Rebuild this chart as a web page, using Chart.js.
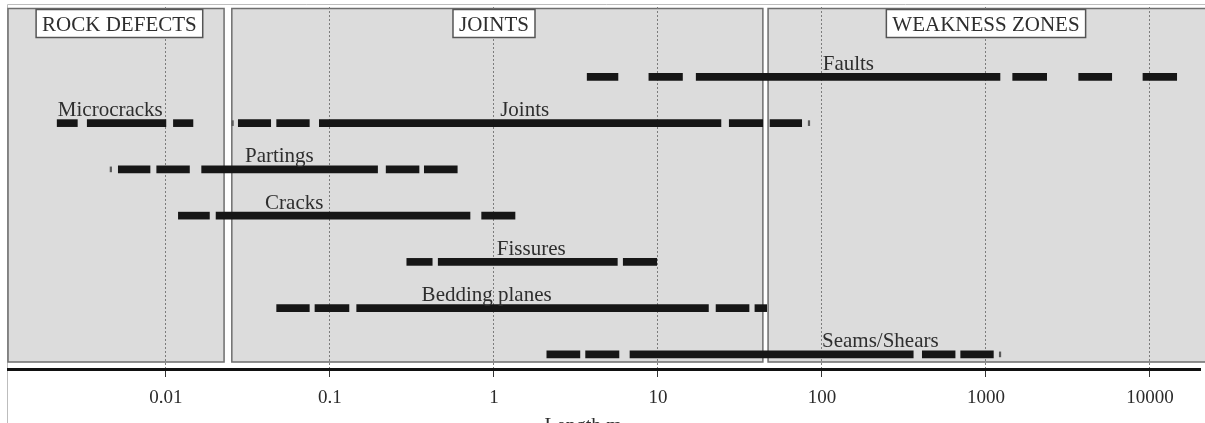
<!DOCTYPE html>
<html>
<head>
<meta charset="utf-8">
<script src="https://cdn.jsdelivr.net/npm/chart.js@4.4.0/dist/chart.umd.min.js"></script>
<style>
  html, body { margin: 0; padding: 0; background: #fff; }
</style>
</head>
<body>
<canvas id="lengthChart" width="1205" height="423"></canvas>
<script>
// Feature names and the row each one sits on (Microcracks and Joints share a row)
const features = ["Faults", "Microcracks", "Joints", "Partings", "Cracks", "Fissures", "Bedding planes", "Seams/Shears"];
const featureRow = [0, 1, 1, 2, 3, 4, 5, 6];

// Dashed ranges of length (m) for each feature
const faults = [[3.7, 5.7], [8.8, 14.1], [17.1, 1217], [1455, 2344], [3675, 5843], [9060, 14550]];
const microcracks = [[0.00217, 0.00288], [0.00331, 0.00999], [0.0111, 0.0146]];
const joints = [[0.0276, 0.0435], [0.0473, 0.0748], [0.0861, 24.2], [27.2, 43.5], [48.2, 75.2]];
const partings = [[0.00512, 0.00799], [0.00878, 0.0139], [0.0165, 0.195], [0.220, 0.349], [0.376, 0.597]];
const cracks = [[0.0119, 0.0184], [0.0202, 0.714], [0.841, 1.343]];
const fissures = [[0.294, 0.420], [0.457, 5.65], [6.14, 9.82]];
const beddingPlanes = [[0.0473, 0.0748], [0.0810, 0.1305], [0.1455, 20.3], [22.6, 35.9], [39.0, 46.0]];
const seamsShears = [[2.10, 3.34], [3.62, 5.78], [6.75, 360], [409, 648], [701, 1109]];
const featureRanges = [faults, microcracks, joints, partings, cracks, fissures, beddingPlanes, seamsShears];

// Little end marks at the extreme of some ranges
const endMarks = [[], [], [0.0252, 82.4], [0.00456], [], [], [], [1205]];

// Where each feature's name starts (m)
const labelAt = [101, 0.00219, 1.09, 0.0303, 0.0402, 1.04, 0.362, 100];

// Zones behind the bars
const zones = ["ROCK DEFECTS", "JOINTS", "WEAKNESS ZONES"];
const zoneFrom = [0.001088, 0.0252, 46.9];
const zoneTo = [0.0226, 43.6, 20180];
const zoneLabelAt = [0.0052, 1, 1000];

// Axis
const tickValues = [0.01, 0.1, 1, 10, 100, 1000, 10000];
const tickLabels = ["0.01", "0.1", "1", "10", "100", "1000", "10000"];
const axisMin = 0.001088;
const axisMax = 20180;
const axisTitle = "Length m";

const serif = "'Liberation Serif', 'Times New Roman', serif";

// build bar data from the arrays
const barData = [];
featureRanges.forEach((ranges, i) => {
  ranges.forEach((r) => barData.push({ x: r, y: featureRow[i] }));
});
const markData = [];
endMarks.forEach((marks, i) => {
  marks.forEach((m) => markData.push({ x: [m, m * 1.022], y: featureRow[i] }));
});

const decorPlugin = {
  id: "decor",
  beforeDraw(chart) {
    const { ctx, chartArea: area, scales } = chart;
    const x = scales.x;
    ctx.save();
    // faint outer frame
    ctx.strokeStyle = "#bdbdbd";
    ctx.lineWidth = 1;
    ctx.beginPath();
    ctx.moveTo(7.5, chart.height);
    ctx.lineTo(7.5, 4.5);
    ctx.lineTo(chart.width, 4.5);
    ctx.stroke();

    // zone panels
    zones.forEach((z, i) => {
      const left = x.getPixelForValue(zoneFrom[i]);
      const right = i === zones.length - 1 ? chart.width + 4 : x.getPixelForValue(zoneTo[i]);
      const top = area.top + 1.5;
      const bottom = area.bottom - 7;
      ctx.fillStyle = "#dcdcdc";
      ctx.fillRect(left, top, right - left, bottom - top);
      ctx.strokeStyle = "#6e6e6e";
      ctx.lineWidth = 1.5;
      ctx.strokeRect(left, top, right - left, bottom - top);
    });
    ctx.restore();
  },
  afterDraw(chart) {
    const { ctx, chartArea: area, scales } = chart;
    const x = scales.x;
    const y = scales.y;
    ctx.save();

    // zone name boxes
    ctx.font = "21px " + serif;
    ctx.textAlign = "center";
    ctx.textBaseline = "alphabetic";
    zones.forEach((z, i) => {
      const cx = x.getPixelForValue(zoneLabelAt[i]);
      const w = ctx.measureText(z).width + 12;
      const top = area.top + 2.5;
      ctx.fillStyle = "#ffffff";
      ctx.fillRect(cx - w / 2, top, w, 28);
      ctx.strokeStyle = "#555555";
      ctx.lineWidth = 1.5;
      ctx.strokeRect(cx - w / 2, top, w, 28);
      ctx.fillStyle = "#2e2e2e";
      ctx.fillText(z, cx, top + 21);
    });

    // feature names above their bars
    ctx.font = "21px " + serif;
    ctx.textAlign = "left";
    ctx.fillStyle = "#2e2e2e";
    features.forEach((f, i) => {
      const px = x.getPixelForValue(labelAt[i]);
      const py = y.getPixelForValue(featureRow[i]) - 7;
      ctx.fillText(f, px, py);
    });

    // axis title, mostly cut off at the bottom like the original
    ctx.font = "20px " + serif;
    ctx.textAlign = "center";
    ctx.fillText(axisTitle, area.left + area.width * 0.4825, chart.height + 9);
    ctx.restore();
  },
};

new Chart(document.getElementById("lengthChart"), {
  type: "bar",
  data: {
    datasets: [
      {
        label: "ranges",
        data: barData,
        backgroundColor: "#161616",
        borderWidth: 0,
        borderSkipped: false,
        barThickness: 7,
        grouped: false,
      },
      {
        label: "ends",
        data: markData,
        backgroundColor: "#5a5a5a",
        borderWidth: 0,
        borderSkipped: false,
        barThickness: 5,
        grouped: false,
      },
    ],
  },
  options: {
    indexAxis: "y",
    responsive: false,
    animation: false,
    layout: { padding: { left: 8, right: 5, top: 7, bottom: 0 } },
    plugins: {
      legend: { display: false },
      tooltip: { enabled: false },
    },
    scales: {
      x: {
        type: "logarithmic",
        min: axisMin,
        max: axisMax,
        afterBuildTicks(scale) {
          scale.ticks = tickValues.map((v) => ({ value: v }));
        },
        afterFit(scale) {
          scale.height = 54;
        },
        ticks: {
          callback: (value, index) => tickLabels[index],
          font: { family: serif, size: 19 },
          color: "#2b2b2b",
          padding: 10,
          maxRotation: 0,
          autoSkip: false,
        },
        grid: {
          color: "#7c7c7c",
          lineWidth: 1,
          tickLength: 8,
          tickColor: "#333333",
          tickWidth: 1,
        },
        border: { display: true, color: "#111111", width: 3, dash: [2, 2] },
      },
      y: {
        type: "linear",
        display: false,
        reverse: true,
        offset: false,
        min: -1.511,
        max: 6.316,
      },
    },
  },
  plugins: [decorPlugin],
});
</script>
</body>
</html>
